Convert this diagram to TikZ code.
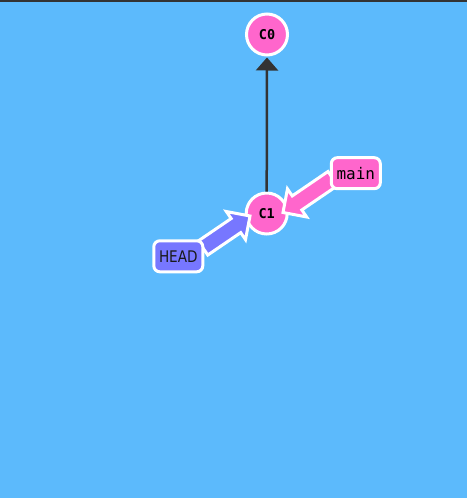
\documentclass[tikz,border=0pt]{standalone}
\usepackage{fontspec}
\usetikzlibrary{calc,arrows.meta}
\newfontfamily\monof{DejaVu Sans Mono}
\newfontfamily\headf{DejaVu Sans}[FakeStretch=0.85]
\definecolor{bgblue}{HTML}{5CBAFC}
\definecolor{cpink}{HTML}{FF66CC}
\definecolor{hblue}{HTML}{7777FF}
\definecolor{edge}{HTML}{333333}
\pgfdeclarelayer{bglayer}
\pgfdeclarelayer{midlayer}
\pgfsetlayers{bglayer,midlayer,main}
\tikzset{
  commit/.style={circle, fill=cpink, draw=white, line width=3pt, minimum size=41pt, inner sep=0pt, font=\monof\bfseries\fontsize{13.5}{15}\selectfont},
  branchbox/.style={rectangle, rounded corners=6pt, draw=white, line width=3pt, minimum width=49pt, minimum height=31pt, inner sep=0pt},
  parentline/.style={draw=edge, line width=2.5pt, -{Triangle[width=22pt,length=13pt]}, shorten >=1pt},
  fatarrow/.style={draw=white, line width=3pt, line join=miter, miter limit=10}
}
\newcommand\fatarr[3]{%
  \coordinate (fb) at ($(#2)!17pt!(#1)$);
  \path[fatarrow, fill=#3]
    ($(#1)!8.5pt!90:(#2)$) -- ($(fb)!8.5pt!-90:(#1)$) -- ($(fb)!17pt!-90:(#1)$) --
    (#2) -- ($(fb)!17pt!90:(#1)$) -- ($(fb)!8.5pt!90:(#1)$) -- ($(#1)!8.5pt!-90:(#2)$) -- cycle;
}
\begin{document}
\begin{tikzpicture}[x=1pt,y=-1pt]
\begin{pgfonlayer}{bglayer}
\fill[bgblue] (0,0) rectangle (467,498);
\fill[edge] (0,0) rectangle (467,2.3);
\useasboundingbox (0,0) rectangle (467,498);
\node[commit] (C0) at (267,34.5) {C0};
\node[commit] (C1) at (266.7,213.5) {C1};
\draw[parentline] (C1.north) -- (C0.south);
\end{pgfonlayer}
\node[branchbox, fill=cpink, font=\monof\fontsize{16}{18}\selectfont] (main) at (355.8,173.2) {main};
\node[branchbox, fill=hblue, font=\headf\fontsize{16}{18}\selectfont, text=black!90] (HEAD) at (178.3,256.3) {HEAD};
\begin{pgfonlayer}{midlayer}
\coordinate (mS) at ($(main)+(-23,5.3)$);
\coordinate (mT) at ($(C1)+(16.3,-1.0)$);
\fatarr{mS}{mT}{cpink}
\coordinate (hS) at ($(HEAD)+(24.7,-8.3)$);
\coordinate (hT) at ($(C1)+(-16.7,2.5)$);
\fatarr{hS}{hT}{hblue}
\end{pgfonlayer}
\end{tikzpicture}
\end{document}
